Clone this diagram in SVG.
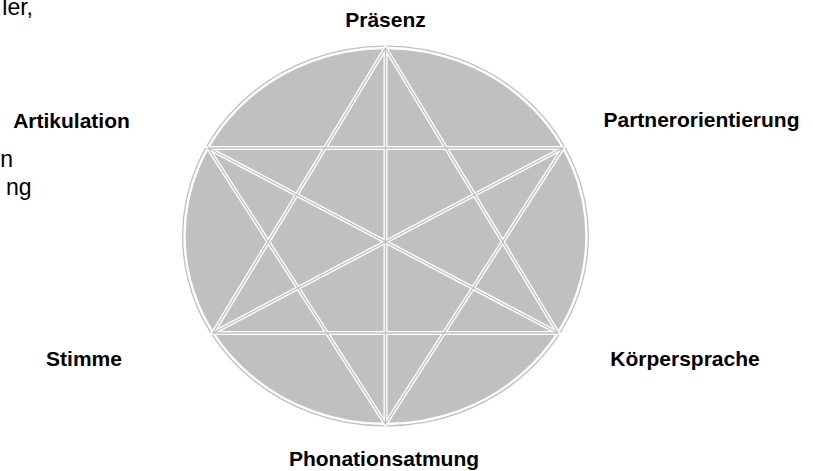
<svg xmlns="http://www.w3.org/2000/svg" width="813" height="471" viewBox="0 0 813 471">
<style>
.lbl{font-family:"Liberation Sans",Arial,sans-serif;font-weight:bold;font-size:21px;fill:#000;text-anchor:middle}
.frag{font-family:"Liberation Sans",Arial,sans-serif;font-size:23px;fill:#000;text-anchor:end}
.w{stroke:#fff;stroke-width:4;fill:none;stroke-linecap:round}
.g{stroke:#c0c0c0;stroke-width:1.3;fill:none}
</style>
<rect width="813" height="471" fill="#fff"/>
<g id="fragments">
<text class="frag" x="33" y="15">ler,</text>
<text class="frag" x="13" y="167">n</text>
<text class="frag" x="31.5" y="195">ng</text>
</g>
<g id="ellipse">
<ellipse cx="385.5" cy="236" rx="201" ry="188" fill="#c0c0c0" stroke="#c0c0c0" stroke-width="5"/>
<ellipse cx="385.5" cy="236" rx="201" ry="188" fill="none" stroke="#fff" stroke-width="2.4"/>
</g>
<g id="connectors">
<g class="w">
<path d="M385.5,48 L213,333 L558,333 Z"/>
<path d="M385.5,424 L208,148 L563,148 Z"/>
<path d="M385.5,48 L385.5,424"/>
<path d="M208,148 L558,333"/>
<path d="M563,148 L213,333"/>
</g>
<g class="g">
<path d="M385.5,48 L213,333 L558,333 Z"/>
<path d="M385.5,424 L208,148 L563,148 Z"/>
<path d="M385.5,48 L385.5,424"/>
<path d="M208,148 L558,333"/>
<path d="M563,148 L213,333"/>
</g>
</g>
<g id="node-praesenz"><text class="lbl" x="385.5" y="27">Präsenz</text></g>
<g id="node-artikulation"><text class="lbl" x="71.5" y="128">Artikulation</text></g>
<g id="node-partnerorientierung"><text class="lbl" x="701.5" y="127">Partnerorientierung</text></g>
<g id="node-stimme"><text class="lbl" x="84" y="366">Stimme</text></g>
<g id="node-koerpersprache"><text class="lbl" x="685" y="366">Körpersprache</text></g>
<g id="node-phonationsatmung"><text class="lbl" x="384" y="466">Phonationsatmung</text></g>
</svg>
